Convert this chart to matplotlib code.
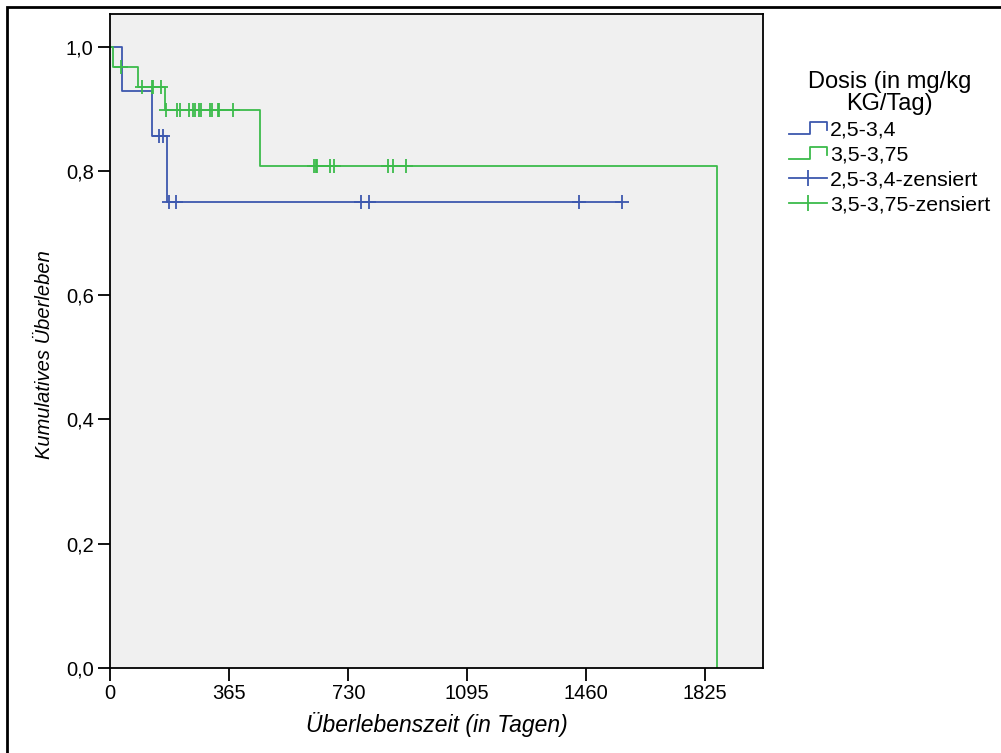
import numpy as np
import matplotlib
matplotlib.use("Agg")
import matplotlib.pyplot as plt
from matplotlib.lines import Line2D
from matplotlib.legend_handler import HandlerBase
from matplotlib.patches import Rectangle

plt.rcParams['font.family'] = ['Liberation Sans', 'DejaVu Sans']

# Kaplan-Meier steps (days, cumulative survival)
blue_t = [0, 37, 127, 173]
blue_s = [1.0, 0.929, 0.857, 0.75]
blue_cens = [149, 162, 180, 201, 768, 794, 1438, 1570]

green_t = [0, 9, 86, 168, 459, 1862]
green_s = [1.0, 0.968, 0.936, 0.898, 0.808, 0.0]
green_cens = [32, 96, 127, 132, 156, 170, 204, 214, 242, 253, 260, 273, 277,
              306, 313, 329, 334, 377, 625, 630, 635, 674, 686, 853, 868, 907]

xticks = [0, 365, 730, 1095, 1460, 1825]
yticks = [0.0, 0.2, 0.4, 0.6, 0.8, 1.0]
labels = ["2,5-3,4", "3,5-3,75", "2,5-3,4-zensiert", "3,5-3,75-zensiert"]

BLUE = "#3d58ae"
GREEN = "#3cbb4b"


def surv_at(t, times, surv):
    idx = np.searchsorted(times, t, side="right") - 1
    return np.asarray(surv)[idx]


def step_curve(ax, times, surv, t_end, color):
    xs = list(times) + [t_end]
    ys = list(surv) + [surv[-1]]
    ax.step(xs, ys, where="post", color=color, lw=1.3)


class StepHandler(HandlerBase):
    # little step symbol used by SPSS for survival lines
    def create_artists(self, legend, orig, xd, yd, w, h, fontsize, trans):
        x = np.array([0, 0.55, 0.55, 1.0, 1.0]) * w - xd
        y = np.array([0.1, 0.1, 0.9, 0.9, 0.4]) * h - yd
        ln = Line2D(x, y, color=orig.get_color(), lw=1.3, transform=trans)
        return [ln]


fig = plt.figure(figsize=(10.01, 7.53), dpi=100)
ax = fig.add_axes([0.1102, 0.1133, 0.6516, 0.8681])
ax.set_facecolor("#f0f0f0")

step_curve(ax, blue_t, blue_s, max(blue_cens), BLUE)
step_curve(ax, green_t, green_s, green_t[-1], GREEN)
ax.plot(blue_cens, surv_at(blue_cens, blue_t, blue_s), ls="none", marker="+",
        ms=10, mew=1.3, color=BLUE)
ax.plot(green_cens, surv_at(green_cens, green_t, green_s), ls="none", marker="+",
        ms=10, mew=1.3, color=GREEN)

ax.set_xlim(0, 2001)
ax.set_ylim(0, 1.053)
ax.set_xticks(xticks)
ax.set_xticklabels([str(v) for v in xticks])
ax.set_yticks(yticks)
ax.set_yticklabels([f"{v:.1f}".replace(".", ",") for v in yticks])
ax.tick_params(direction="out", length=9, width=1.3, labelsize=14.5, pad=3)
for sp in ax.spines.values():
    sp.set_linewidth(1.3)

ax.set_xlabel("Überlebenszeit (in Tagen)", fontsize=16.5, style="italic", labelpad=6)
ax.set_ylabel("Kumulatives Überleben", fontsize=14.5, style="italic")
ax.yaxis.set_label_coords(-0.086, 0.479)

h_step_b = Line2D([], [], color=BLUE)
h_step_g = Line2D([], [], color=GREEN)
h_cens_b = Line2D([], [], color=BLUE, lw=1.3, marker="|", ms=12, mew=1.3)
h_cens_g = Line2D([], [], color=GREEN, lw=1.3, marker="|", ms=12, mew=1.3)
leg = fig.legend([h_step_b, h_step_g, h_cens_b, h_cens_g], labels,
                 title="Dosis (in mg/kg\nKG/Tag)", loc="upper left",
                 bbox_to_anchor=(0.773, 0.9256), frameon=False, fontsize=15.3,
                 title_fontsize=17, handlelength=1.8, handletextpad=0.15,
                 labelspacing=0.28, borderpad=0.2,
                 handler_map={h_step_b: StepHandler(), h_step_g: StepHandler()})
leg.get_title().set_multialignment("center")
leg.get_title().set_linespacing(1.0)

# outer frame (only left/top edges fall inside the picture)
fig.add_artist(Rectangle((7 / 1001, -0.1), 1.2, 1.1 - 7 / 753,
                         transform=fig.transFigure, fill=False, lw=2,
                         edgecolor="black"))

fig.savefig("out.png", dpi=100)
